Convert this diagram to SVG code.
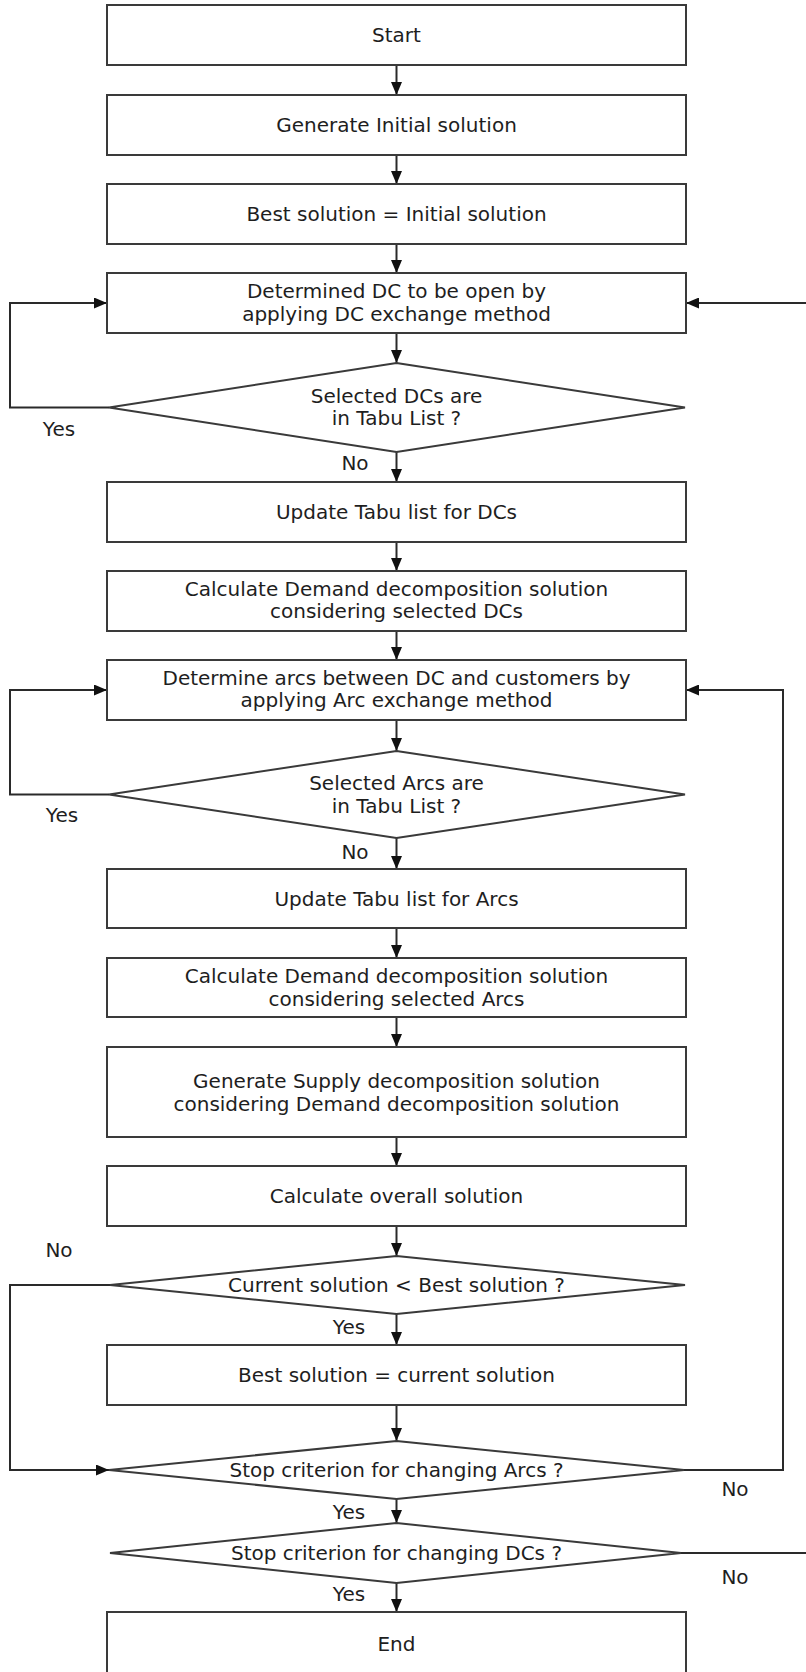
<svg xmlns="http://www.w3.org/2000/svg" width="806" height="1672" viewBox="0 0 806 1672">
  <style>
    .box { fill: #ffffff; stroke: #3a3a3a; stroke-width: 2; }
    .dia { fill: #ffffff; stroke: #3a3a3a; stroke-width: 2; stroke-linejoin: miter; }
    .t { font-family: "DejaVu Sans", Verdana, sans-serif; font-size: 20px; fill: #1e1e1e; text-anchor: middle; }
    .lbl { font-family: "DejaVu Sans", Verdana, sans-serif; font-size: 20px; fill: #1e1e1e; text-anchor: middle; }
    .edge { fill: none; stroke: #2a2a2a; stroke-width: 2; }
    .edge-a { fill: none; stroke: #2a2a2a; stroke-width: 2; marker-end: url(#arrow); }
  </style>
  <defs>
    <marker id="arrow" markerUnits="userSpaceOnUse" markerWidth="13" markerHeight="11" viewBox="0 0 13 11" refX="13" refY="5.5" orient="auto">
      <path d="M0,0 L13,5.5 L0,11 z" fill="#111"/>
    </marker>
  </defs>
  <rect width="806" height="1672" fill="#ffffff"/>

  <!-- connectors -->
  <g id="connectors">
    <!-- main spine -->
    <line class="edge-a" x1="396.5" y1="65" x2="396.5" y2="95"/>
    <line class="edge-a" x1="396.5" y1="155" x2="396.5" y2="184"/>
    <line class="edge-a" x1="396.5" y1="244" x2="396.5" y2="273"/>
    <line class="edge-a" x1="396.5" y1="333" x2="396.5" y2="363"/>
    <line class="edge-a" x1="396.5" y1="452" x2="396.5" y2="482"/>
    <line class="edge-a" x1="396.5" y1="542" x2="396.5" y2="571"/>
    <line class="edge-a" x1="396.5" y1="631" x2="396.5" y2="660"/>
    <line class="edge-a" x1="396.5" y1="720" x2="396.5" y2="751"/>
    <line class="edge-a" x1="396.5" y1="838" x2="396.5" y2="869"/>
    <line class="edge-a" x1="396.5" y1="928" x2="396.5" y2="958"/>
    <line class="edge-a" x1="396.5" y1="1017" x2="396.5" y2="1047"/>
    <line class="edge-a" x1="396.5" y1="1137" x2="396.5" y2="1166"/>
    <line class="edge-a" x1="396.5" y1="1226" x2="396.5" y2="1256"/>
    <line class="edge-a" x1="396.5" y1="1314" x2="396.5" y2="1345"/>
    <line class="edge-a" x1="396.5" y1="1405" x2="396.5" y2="1441"/>
    <line class="edge-a" x1="396.5" y1="1499" x2="396.5" y2="1523"/>
    <line class="edge-a" x1="396.5" y1="1583" x2="396.5" y2="1612"/>

    <!-- DC tabu loop (Yes) -->
    <path class="edge-a" d="M109,407.5 H10 V303 H107"/>
    <!-- Arc tabu loop (Yes) -->
    <path class="edge-a" d="M109,794.5 H10 V690 H107"/>
    <!-- not better: skip to arc stop test (No) -->
    <path class="edge-a" d="M110,1285 H10 V1470 H109"/>
    <!-- arc stop not met: back to arc exchange (No) -->
    <path class="edge-a" d="M684,1470 H783 V690 H686"/>
    <!-- DC stop not met: back to DC exchange (No) -->
    <path class="edge-a" d="M681,1553 H812 V303 H686"/>
  </g>

  <!-- nodes -->
  <g id="n-start">
    <rect class="box" x="107" y="5" width="579" height="60"/>
    <text class="t" x="396.5" y="42">Start</text>
  </g>
  <g id="n-generate">
    <rect class="box" x="107" y="95" width="579" height="60"/>
    <text class="t" x="396.5" y="132">Generate Initial solution</text>
  </g>
  <g id="n-best-init">
    <rect class="box" x="107" y="184" width="579" height="60"/>
    <text class="t" x="396.5" y="221">Best solution = Initial solution</text>
  </g>
  <g id="n-dc-exchange">
    <rect class="box" x="107" y="273" width="579" height="60"/>
    <text class="t" x="396.5" y="298">Determined DC to be open by</text>
    <text class="t" x="396.5" y="321">applying DC exchange method</text>
  </g>
  <g id="n-dc-tabu">
    <polygon class="dia" points="396.5,363 685,407.5 396.5,452 109,407.5"/>
    <text class="t" x="396.5" y="402.5">Selected DCs are</text>
    <text class="t" x="396.5" y="425">in Tabu List ?</text>
  </g>
  <g id="n-update-dc">
    <rect class="box" x="107" y="482" width="579" height="60"/>
    <text class="t" x="396.5" y="519">Update Tabu list for DCs</text>
  </g>
  <g id="n-demand-dc">
    <rect class="box" x="107" y="571" width="579" height="60"/>
    <text class="t" x="396.5" y="596">Calculate Demand decomposition solution</text>
    <text class="t" x="396.5" y="618">considering selected DCs</text>
  </g>
  <g id="n-arc-exchange">
    <rect class="box" x="107" y="660" width="579" height="60"/>
    <text class="t" x="396.5" y="685">Determine arcs between DC and customers by</text>
    <text class="t" x="396.5" y="707">applying Arc exchange method</text>
  </g>
  <g id="n-arc-tabu">
    <polygon class="dia" points="396.5,751 685,794.5 396.5,838 109,794.5"/>
    <text class="t" x="396.5" y="789.5">Selected Arcs are</text>
    <text class="t" x="396.5" y="812.5">in Tabu List ?</text>
  </g>
  <g id="n-update-arc">
    <rect class="box" x="107" y="869" width="579" height="59"/>
    <text class="t" x="396.5" y="905.5">Update Tabu list for Arcs</text>
  </g>
  <g id="n-demand-arc">
    <rect class="box" x="107" y="958" width="579" height="59"/>
    <text class="t" x="396.5" y="983">Calculate Demand decomposition solution</text>
    <text class="t" x="396.5" y="1005.5">considering selected Arcs</text>
  </g>
  <g id="n-supply">
    <rect class="box" x="107" y="1047" width="579" height="90"/>
    <text class="t" x="396.5" y="1087.5">Generate Supply decomposition solution</text>
    <text class="t" x="396.5" y="1110.5">considering Demand decomposition solution</text>
  </g>
  <g id="n-overall">
    <rect class="box" x="107" y="1166" width="579" height="60"/>
    <text class="t" x="396.5" y="1203">Calculate overall solution</text>
  </g>
  <g id="n-compare">
    <polygon class="dia" points="396.5,1256 685,1285 396.5,1314 110,1285"/>
    <text class="t" x="396.5" y="1292">Current solution &lt; Best solution ?</text>
  </g>
  <g id="n-best-update">
    <rect class="box" x="107" y="1345" width="579" height="60"/>
    <text class="t" x="396.5" y="1382">Best solution = current solution</text>
  </g>
  <g id="n-stop-arcs">
    <polygon class="dia" points="396.5,1441 684,1470 396.5,1499 109,1470"/>
    <text class="t" x="396.5" y="1477">Stop criterion for changing Arcs ?</text>
  </g>
  <g id="n-stop-dcs">
    <polygon class="dia" points="396.5,1523 681,1553 396.5,1583 110,1553"/>
    <text class="t" x="396.5" y="1560">Stop criterion for changing DCs ?</text>
  </g>
  <g id="n-end">
    <rect class="box" x="107" y="1612" width="579" height="66"/>
    <text class="t" x="396.5" y="1651">End</text>
  </g>

  <!-- branch labels -->
  <g id="labels">
    <text class="lbl" x="59" y="436">Yes</text>
    <text class="lbl" x="355" y="470">No</text>
    <text class="lbl" x="62" y="822">Yes</text>
    <text class="lbl" x="355" y="859">No</text>
    <text class="lbl" x="59" y="1257">No</text>
    <text class="lbl" x="349" y="1334">Yes</text>
    <text class="lbl" x="735" y="1496">No</text>
    <text class="lbl" x="349" y="1519">Yes</text>
    <text class="lbl" x="735" y="1584">No</text>
    <text class="lbl" x="349" y="1601">Yes</text>
  </g>
</svg>
